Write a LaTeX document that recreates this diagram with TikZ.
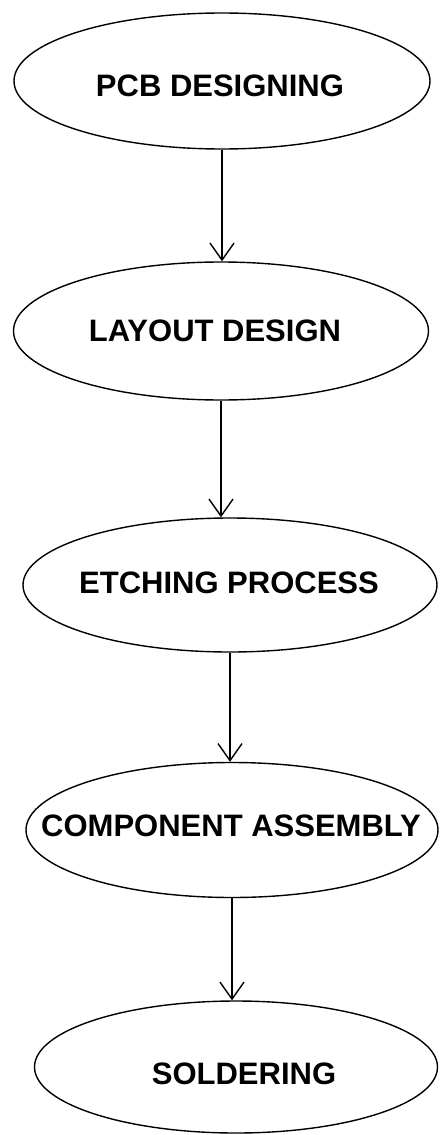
\documentclass[tikz,border=0pt]{standalone}
\usepackage{fontspec}
\setsansfont{Liberation Sans}
\usepackage{xcolor}
\usetikzlibrary{arrows.meta,shapes.geometric}
\definecolor{ink1}{RGB}{0,0,0}

\begin{document}
\begin{tikzpicture}[x=1pt,y=-1pt,
    stage/.style={ellipse, draw=ink1, line width=1.4pt, inner sep=0pt},
    stagetext/.style={inner sep=0pt, text=ink1,
        font=\sffamily\bfseries\fontsize{31}{36}\selectfont},
    flow/.style={-{Straight Barb[length=17pt,width=24pt]}, draw=ink1, line width=1.4pt}]
    \useasboundingbox (0,0) rectangle (442,1135);
    % Process stages
    \node[stage, minimum width=416pt, minimum height=136pt] (e1) at (222,81) {};
    \node[stage, minimum width=415pt, minimum height=138pt] (e2) at (221,331) {};
    \node[stage, minimum width=414pt, minimum height=134pt] (e3) at (230,585) {};
    \node[stage, minimum width=412pt, minimum height=135pt] (e4) at (232,830) {};
    \node[stage, minimum width=403pt, minimum height=132pt] (e5) at (236,1067) {};
    % Stage labels
    \node[stagetext] (t1) at (220,86) {PCB DESIGNING};
    \node[stagetext] (t2) at (215,331) {LAYOUT DESIGN};
    \node[stagetext] (t3) at (229,583) {ETCHING PROCESS};
    \node[stagetext] (t4) at (231,826) {COMPONENT ASSEMBLY};
    \node[stagetext] (t5) at (244,1074) {SOLDERING};
    % Arrows between stages
    \foreach \a/\b in {e1/e2,e2/e3,e3/e4,e4/e5}{
        \draw[flow] (\a.south) -- (\a.south |- \b.north);
    }
\end{tikzpicture}
\end{document}
